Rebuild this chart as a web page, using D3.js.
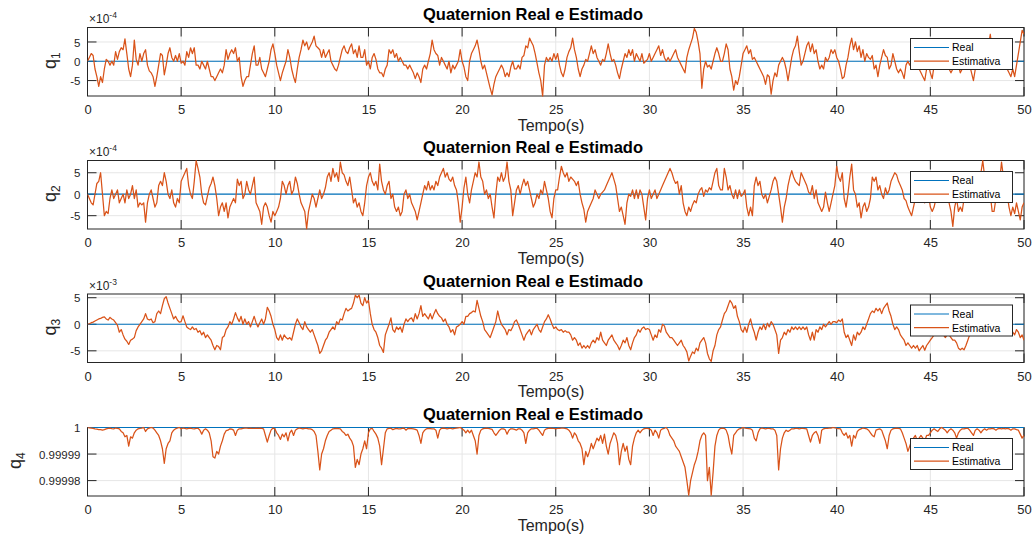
<!DOCTYPE html>
<html><head><meta charset="utf-8">
<script src="https://cdn.jsdelivr.net/npm/d3@7"></script>
<style>
body{margin:0;background:#fff}
svg{display:block}
text{font-family:"Liberation Sans",Arial,Helvetica,sans-serif}
</style>
</head><body>
<svg id="c" width="1032" height="540"></svg>
<script>
// ---------------- DATA ----------------
const timeStep = 0.1;                 // sampling step of the series (s)
const xDomain = [0, 50];
const xTicks = [0,5,10,15,20,25,30,35,40,45,50];
const xTickLabels = ["0","5","10","15","20","25","30","35","40","45","50"];
const seriesNames = ["Real", "Estimativa"];
const titleText = "Quaternion Real e Estimado";
const xLabelText = "Tempo(s)";
const realValues = [0, 0, 0, 1];      // constant "Real" quaternion per panel

// q1 estimate (units of 1e-4), one row per second
const q1Values = [
0,1,2,1.5,-2,-4,-6.5,-4,-5.5,-2,
0.5,0,-1,0,-1,2.5,0.5,2.5,3.5,3,
5.8,2,-2,-4,-1,5.5,0.5,-1,2,0,
2,3,-1,-2.5,-3,-4,-6.5,-4,-1,2,
1.5,-3.5,-1,2,3.5,1,0,1.5,0,2,
-0.5,0,-1,2.5,1,3.5,2,3.5,-1,-1,
-2,0,-1,-2,0,-2,-4,-4,-5,-4,
-3,-2,-3,-1,3,0.5,2,3,2,3.5,
0,1,-4,-6.5,-5,-4,-4,-1,2,4,
-1,-1,1,-2,-3,-4,-2,0,3,4.5,
2,-1,-3,-5,-3,-1.5,0,3,1,-2,
-4,-5.5,-2,1,3,5.5,4,5,3,4,
5,6.5,4,3.5,3,1,3,1,2,3,
0,-1,-2,-2.5,-1,1,3,4,2.5,2,
3.5,4.5,2,3,1,4,1,1,3,-1,
0,-2,1,2,0.5,-2,-3,-3,-4,-2,
-1,3,2,3,1,2,0,1,0,-1,
-1,-2,-1,-2,-3,-4.5,-3,-4,-5.5,-2,
-1,-2,0,2,5.5,3,2,1.5,-1,1,
0,-1,-2,0,-3,-1,-2,-1,0,3,
0,-1.5,-4,-5,0,2,3,4,5.5,3,
0,-2,-1,-3,-5,-7,-8.7,-6,-4,-3,
-2,-1,-2,-4,-3,-4,-1.5,0,-2,-2,
-1,-2,1,1.5,4,3.5,6,5,4,2,
-0.5,-3,-5,-9,-1,1,0,1,0,2,
0.5,2,-1,-3,-4,-2,1,2.5,3.5,6,
3,1,-2,-4,-2,-1,0.5,0,2,4,
2,3,1,0,-1,0.5,0,2,4.5,2,
0,0.5,-1,-3,-4.5,-2,0,2,1,3,
1.5,3,0,2,1,0,2,-0.5,0,0.5,
2,0,1,2,3,4,1.5,3,1,0,
1,0,1,2,3,1,0,-1,-2,-3,
1,3,4.5,6,8.5,7.5,5,2,-7,-2,
0,-1.5,-1,-2,0,2,3.5,2,0,0,
2,4.5,3,-2,-4,-7.5,-5,-6,-4,-1,
2,3,4,2,3,0.5,1,0,-1,-2,
-3,-4,-6,-3.5,-4,-8.5,-5,-3,-4,-1,
0,1,0,-2,-5,-2,1,3,4,6.5,
2.5,-1,0,2,4,5,2.5,4.5,2,3,
0,-2,-1,-2,1,0,1,3,2,3,
1,0,-2,-4.5,-4,-1,1,4,6,3,
5,2.5,4,1,3,0,2,1,0.5,1.5,
-2,-1,-4,-1,1,3,1.5,1,-2,-1,
2,0,-2,-3,-2,-3,-4.5,-1,0,-1,
0,1,-1,0,-2,-3,-4,-5,-2,-1,
-3,-4.5,-1,0,1,2,0,-1,1,0,
-2,-3,-2,0,1,-1,-3,-2,0,1,
0,-1,-3,-5,-2,0,2,1,3,2,
3,4,7,3,1,2,0,1,-1,0,
-1,-2,-3,-4,-2,-4,-1,2,5,8,
7];

// q2 estimate (units of 1e-4)
const q2Values = [
0,-1,-2,-2.5,0,2.5,3,5,0,-5,
-4,-4.5,-1,1,-1,0,1,-2,-1,0,
-2,1,-1,0,2,-1,1,-3,-2,-2.5,
-2,-6.5,-2,0,1,-1,-3,-2,2,3,
2,5,3,0,-1,1,-2,-3,-1,-2,
3,4,5,6,2,0,-1,3,7.8,6,
4,0,-2,-2.5,-0.5,1.5,2.5,4,2,-1,
-5,-3,-2,-4,-2,-5.5,-3,-2,-1,-2,
3.5,2,3,-1,0,3,1,0,2,4,
-2,-3,-4,-7,-3,-2,-3,-5,-6.5,-4,
-5,-4,-3,-1,3,2,0,2,3,0,
1,4,2.5,0,-2,-3,-4,-8,-4,-2,
0,-1,-3,-1,1,-1,0,1.5,4,5,
3,6,4,5,3,7.5,5,4.5,3,2,
4,1,-2,-1,-3,-2,-4,-5,-2,2,
4,5,3,2,3,1,7,3,1,0,
2,3,-1,0,-3,-4,-3,-5,-4,0,
1,-1,0,-2,-3,-4,-6,-4,-2,0,
2,1,3,1,2,1,3,2,4,5,
6,4,5,3.5,3,4,2,1,-2,-6.5,
-3,1.5,4,0,-2,1,3,5,4,7.5,
4,3,0,1,-1,0,-3,-5.5,0,4,
3,5,3,4,7.5,3,1,-5,-2,1,
2,0,2,3.5,2,3,1,-1,-3,-2,
0,-1,1,0,3,1,-1,-4,-5.5,-1,
1,1,4,6.5,5,4,5,3,4,3.5,
3,2,3,0,-2,-3.5,-6.5,-4,-3,-2,
-1,1,0,-1,0,0.5,1,2,3,4,
5,3.5,2,-1,-4,-3,-5,-7,-2,0,
-0.5,1,-1,1,-1,1,0,-3,-6,-1,
1,-1,0,1,-1,0,1,2,3,4,
5,6,5,3.5,2.5,3,0,2,-2,-4,
-5,-3,-4,-2.5,-1.5,-2,0,1,1.5,-0.5,
1,0.5,1.5,1,3,5,6,2,1,1,
6,4,1,2,0,-1,1,-1,1,-0.5,
0,1,-3,-5,-3,-5,2,4,2,3,
0,-1,0,-2,-0.5,1,3,4,3,0,
-3,-6.5,-3,-1,2,4,5.5,4,3,2.5,
2,5,4,3,2,0.5,0,2,-1,1,
-2,-3,-4,-3,0.5,-2,-4,-2,0,2,
6.5,4,3,5,-1,-3,0,4,7,1,
0,-3,-2,-5.5,-3,-2,-4,-3,-1,4,
3,4,1,2,0,-1,1.5,0,1,3,
4,5,4.5,3,2,1,-1,-1.5,-3,-4,
-5,-3,-1,0,1,-1,0,-2,-1,0,
-3,-4,-3,-1,0,2,0,-1,1,0,
-2,-4,-7.5,-3,-1,-4,-3,-4,-1,0,
1,2,0,1,3,2,4,5,7.8,4,
2,1,0,-4,-4,-1,1,3,7.5,4,
2,0,-3,-5,-3,-4.5,-2,-4,-6,-3,
-2];

// q3 estimate (units of 1e-3)
const q3Values = [
0,0.1,0.3,0.4,0.6,0.8,1.0,1.1,1.3,1.4,
1.0,0.8,1.3,1.0,0.8,0.3,-0.2,-1.5,-1,-2,
-2.8,-3.2,-3.8,-3,-2.8,-2.5,-1.2,-0.5,0,0.5,
1,2,1,0.8,1,0.3,0.5,2,2.5,2,
3.5,4.8,5.2,4,3,2,1,1.5,0.8,0.4,
0.5,1.6,0.5,-0.5,-0.8,-1,-0.5,-1,-0.8,-1.5,
-1.2,-2,-1.5,-2.5,-2,-2.5,-3,-4,-4.8,-4,
-4.2,-4.8,-2.5,-2.2,-1,-0.5,0.5,0,1,2.2,
1.2,0.5,1.5,0,1,0,0.5,-0.5,0.5,1.5,
0.3,-0.5,0.3,1,0,1,3.2,2.5,1.5,0,
-1,-2.5,-3,-2,-3,-2,-2.5,-2.8,-2.5,-3,
-1.5,0,1,0.3,-0.5,-1,0.5,-0.5,-1,-1.5,
-1,-2,-3,-4,-5.5,-5,-4,-3,-2.5,-1.5,
-1,-0.5,-1,0.5,0,1,0.8,2,3,2.5,
2.8,3,4,5.5,5,5.5,4,3.5,5,4,
4.5,2,0,-1,-1.5,-2.5,-4,-4.5,-5.3,-2,
-1,0,1.2,-1,-1.5,-0.5,-1,-0.5,-1.5,0,
1,0.5,1,1.2,0.5,2,1,2,3.5,1.5,
2,1.5,1,2,1,2,2.8,2,1.5,1.2,
0.5,1,0,-0.5,-1.5,-1,-2,-0.5,-0.3,0,
0.5,0,1.5,1.5,2,2.2,2.5,2.3,4.5,3,
1.5,0.5,-1,-1.5,-2,-2.5,-1.5,-0.5,0.5,2.5,
1,0,-0.5,-1,-2,-1,-1.2,-0.5,0.5,0.8,
0,-1,-2,-3,-2,-1.5,-1,-2,-1,-0.5,
0,-1,-1.5,-0.5,0.5,1,1.8,1,0,-0.8,
-0.5,-1,-1.2,-1,-1.5,-1.2,-1.5,-1.5,-2,-3,
-2.5,-3,-4,-3.5,-4.5,-4,-4.5,-4,-4.5,-3.5,
-3,-3.5,-2.5,-3,-1.5,-3,-3.5,-4,-3,-2.5,
-2,-3,-3.5,-4,-4.8,-4,-3,-3.5,-2.5,-4,
-4.8,-3.5,-2.5,-2,-1,-1.5,-0.8,-0.5,-1,-0.8,
-1,-2,-3,-2,-2.5,-1,-1.5,0,-0.3,-1.5,
-2,-2.5,-2.5,-3,-3.5,-4,-3.5,-3,-4,-4.5,
-5.2,-6.9,-6,-5.2,-5.5,-4.5,-5,-3.5,-3,-2.5,
-3.5,-5.5,-6.5,-7,-5,-4,-2,-1,-0.5,0.8,
2,2.5,3.5,4.5,4,3,3.5,1.5,0.5,-1,
-1.5,-0.5,-1.5,0,1,-0.5,-1.5,-3,-1.5,-0.5,
-1,0,-1,0.2,-0.5,0.5,0,-1,-2,-5.5,
-3,-2.5,-1.5,-2,-1,-1.5,-0.5,-1,-0.5,-1,
-0.5,-1,-0.5,-1,-0.5,-2,-3,-1.5,-3,-1,
-1.5,-0.5,-1,0,-0.5,0,0.5,0,0.5,0.5,
0.3,0.8,0.5,1,-1.5,-2.5,-2,-3,-4,-2,
-3,-1.5,-2,-1.5,-0.5,-1,0,1,2,2.5,
2.2,3,2.5,3,2,3,3.5,4,2.5,1.5,
0,-1,-0.5,-1,-2,-2.5,-3,-4,-3.5,-4,
-4.5,-4,-4.5,-4,-5,-4.5,-4,-4.9,-4,-3.5,
-3,-2.5,-2,-1.5,-1,-1,-1.5,-2,-2.5,-2,
-2,-2.5,-3,-3,-3.5,-4.5,-4.8,-4.5,-4.8,-4,
-3,-2,-1.5,-1,-0.5,-1,-0.5,0,-0.5,0,
0.5,0,-0.5,0,0.5,0,-0.5,-1,-0.5,0,
-0.5,-1,-1.5,-1,-1.5,-2,-1,-1.5,-2.5,-2,
-3];

// q4 estimate: distance below 1 (units of 1e-6)
const q4Deviation = [
0,0.1,0.2,0.3,0.5,0.6,0.8,0.8,1,0.8,
0.5,0.3,0.2,0.4,0.5,0.2,0.3,0.5,1.5,2,
3.5,3,7,3.5,4,2,1,0.5,0.3,0.2,
0,1.5,0.5,0.2,0,0.2,1,2,3,5,
8,13.5,8,6,5,2,1,0.5,0.2,0,
0.5,0.2,0.3,0.5,0.3,0.2,0.4,0.5,0.3,0.3,
1,2.5,1,0.5,1,2,5,11,11.5,9,
10,7,5,2.5,1.2,1,0.5,0.6,1,3,
1,0.5,0.5,0.3,0.2,0.2,0.3,0.2,0.3,0.3,
0.2,0.3,0.2,0.3,0.5,3,5.5,3,1,0.2,
0.5,2,3,4.5,2.5,3.5,2,5,2,1,
3,1,0.5,0.2,0.3,0.5,0.3,0.3,0.5,0.5,
0.8,1.5,3,9,16,10,8,5,3,1.5,
1,0.5,0.4,0.3,0.4,0.5,1.5,2,3,2.5,
4,5,7,15,12,14,10,8,5,8,
2,0.5,0.3,1.5,2.5,4,7,14,8,2,
0.5,0.3,0.3,0.8,0.5,0.3,0.5,0.5,0.3,0.2,
1,0.4,0.3,0.4,0.5,0.7,1,3,6,2,
1,0.5,0.3,0.4,0.5,0.5,1,4,1,0.3,
0.2,0.3,0.5,0.3,0.3,0.5,0.3,0.2,0.1,0,
0.5,1,2,1,2,1,3,5,10,3,
1,0.5,0.3,0.2,0.3,0.5,0.7,2,3,2,
1,0.5,0.5,0.8,2.5,1,0.5,0.5,0.7,1,
0.5,0.5,1,2,6,2,1,0.5,0.5,0.3,
0.3,1,2,3,1,0.5,0.3,0.2,0.3,0.3,
0.5,0.3,0.3,0.2,0.2,0.3,0.5,1,2,4,
2,3,5,6,8,14,9,11,9,6,
8,6,4,5,3,6,2.5,7,10,6,
4,2,3,6,14,9,6,9,7,12,
14,7,4,2,1,2,1,0.5,0.3,0.3,
0.5,1,3,1,2,4,1,0.5,0.3,0,
1,3,4,5,7,8,9,11,13,15,
20,25.5,20,17,14,12,9,5,3,2,
3,20,15,25.5,17,7,3,1,0.3,0.2,
0.3,1,3,7,10,3,2,1,0.5,0.3,
0,0.2,0.3,0.4,0.5,1,4,5,2,0.5,
0.2,0.3,0.5,0.3,0.3,0.5,0.5,1,3,16,
8,4,2,1,1.5,1,0.5,0.5,0.3,0.3,
0.5,0.3,0.3,0.4,0.5,3,5.5,3,2,1.5,
3,6,1,0.5,0.3,0.3,0.2,0.2,0,0.1,
0.3,0.4,0.5,2,3,2,4,3,7,3,
4,1.5,0.8,0.5,0.2,0.3,0.5,1,2,3,
3.5,1,0.7,0.5,1,3,5,8,3,1,
0.5,0.3,0.2,0.3,0.5,2,4,6,9,7,
5,4,3,5,4,3,4,5,3,3,
2,1,0.5,1,1.5,0.5,0,0.5,1,2,
1,0.5,1,2,4,2,1,0.5,0.5,0.3,
0.3,1,2,3,1,0.5,1,2,1,0.5,
1,0.5,0.5,0.3,0.5,1,0.5,0.3,0.5,0.3,
0.5,0.3,0.5,1,0.5,0.5,0.8,1,2.5,4,
3];
const q4Values = q4Deviation.map(d => 1 - d * 1e-6);

// axis limits / ticks per panel
const q1Domain = [-9.0, 8.75], q1Ticks = [-5, 0, 5], q1TickLabels = ["-5", "0", "5"];
const q2Domain = [-8.1, 7.85], q2Ticks = [-5, 0, 5], q2TickLabels = ["-5", "0", "5"];
const q3Domain = [-7.2, 5.7],  q3Ticks = [-5, 0, 5], q3TickLabels = ["-5", "0", "5"];
const q4Domain = [1 - 25.8e-6, 1], q4Ticks = [0.99998, 0.99999, 1], q4TickLabels = ["0.99998", "0.99999", "1"];
const subscripts = ["1", "2", "3", "4"];
const exponents = ["-4", "-4", "-3", null];

const panels = [
  {values:q1Values, domain:q1Domain, ticks:q1Ticks, labels:q1TickLabels},
  {values:q2Values, domain:q2Domain, ticks:q2Ticks, labels:q2TickLabels},
  {values:q3Values, domain:q3Domain, ticks:q3Ticks, labels:q3TickLabels},
  {values:q4Values, domain:q4Domain, ticks:q4Ticks, labels:q4TickLabels}
];

// ---------------- LAYOUT ----------------
const xLeft = 87.5, xRight = 1024;
const plotTops = [27.5, 160.5, 294, 427.5];
const plotH = 68.5;
const tickLen = 9;
const yLabelX = [56, 56, 56, 21];
const axisColor = "#262626", gridColor = "#e6e6e6";
const colReal = "#0072BD", colEst = "#D95319";

const svg = d3.select("#c");
const x = d3.scaleLinear().domain(xDomain).range([xLeft, xRight]);
const defs = svg.append("defs");

panels.forEach((p, i) => {
  const top = plotTops[i], bottom = top + plotH;
  const y = d3.scaleLinear().domain(p.domain).range([bottom, top]);
  const g = svg.append("g");

  // grid
  g.append("g").selectAll("line").data(xTicks).join("line")
    .attr("x1", d => x(d)).attr("x2", d => x(d)).attr("y1", top).attr("y2", bottom)
    .attr("stroke", gridColor).attr("stroke-width", 1);
  g.append("g").selectAll("line").data(p.ticks).join("line")
    .attr("y1", d => y(d)).attr("y2", d => y(d)).attr("x1", xLeft).attr("x2", xRight)
    .attr("stroke", gridColor).attr("stroke-width", 1);

  // box
  g.append("rect").attr("x", xLeft).attr("y", top).attr("width", xRight - xLeft).attr("height", plotH)
    .attr("fill", "none").attr("stroke", axisColor).attr("stroke-width", 1);

  // inward ticks on all sides
  const tk = g.append("g").attr("stroke", axisColor).attr("stroke-width", 1);
  tk.selectAll(".xb").data(xTicks).join("line").attr("class","xb")
    .attr("x1", d => x(d)).attr("x2", d => x(d)).attr("y1", bottom).attr("y2", bottom - tickLen);
  tk.selectAll(".xt").data(xTicks).join("line").attr("class","xt")
    .attr("x1", d => x(d)).attr("x2", d => x(d)).attr("y1", top).attr("y2", top + tickLen);
  tk.selectAll(".yl").data(p.ticks).join("line").attr("class","yl")
    .attr("y1", d => y(d)).attr("y2", d => y(d)).attr("x1", xLeft).attr("x2", xLeft + tickLen);
  tk.selectAll(".yr").data(p.ticks).join("line").attr("class","yr")
    .attr("y1", d => y(d)).attr("y2", d => y(d)).attr("x1", xRight).attr("x2", xRight - tickLen);

  // data
  const clipId = "clip" + i;
  defs.append("clipPath").attr("id", clipId).append("rect")
    .attr("x", xLeft).attr("y", top - 1).attr("width", xRight - xLeft).attr("height", plotH + 2);
  const dg = g.append("g").attr("clip-path", `url(#${clipId})`);
  dg.append("path").datum(xDomain)
    .attr("d", d3.line().x(t => x(t)).y(() => y(realValues[i])))
    .attr("fill", "none").attr("stroke", colReal).attr("stroke-width", 1.2);
  dg.append("path").datum(p.values)
    .attr("d", d3.line().x((v, k) => x(k * timeStep)).y(v => y(v)))
    .attr("fill", "none").attr("stroke", colEst).attr("stroke-width", 1.25).attr("stroke-linejoin", "round");

  // x tick labels
  const ax = g.append("g").attr("transform", `translate(0,${bottom})`)
    .call(d3.axisBottom(x).tickValues(xTicks).tickFormat((d, k) => xTickLabels[k]).tickSize(0));
  ax.select(".domain").remove();
  ax.selectAll("text").attr("dy", null).attr("y", 18).attr("fill", axisColor)
    .attr("font-size", 13).attr("font-family", '"Liberation Sans",Arial,sans-serif');

  // y tick labels
  const ay = g.append("g").attr("transform", `translate(${xLeft},0)`)
    .call(d3.axisLeft(y).tickValues(p.ticks).tickFormat((d, k) => p.labels[k]).tickSize(0).tickPadding(7));
  ay.select(".domain").remove();
  ay.selectAll("text").attr("dy", "0.35em").attr("fill", axisColor)
    .attr("font-size", 11.5).attr("font-family", '"Liberation Sans",Arial,sans-serif');

  // exponent
  if (exponents[i]) {
    const ex = g.append("text").attr("x", xLeft + 1.5).attr("y", top - 4.5)
      .attr("font-size", 12).attr("fill", axisColor);
    ex.append("tspan").text("\u00d710");
    ex.append("tspan").attr("font-size", 8.5).attr("dy", -5).text(exponents[i]);
  }

  // title
  g.append("text").attr("x", 533).attr("y", top - 7.5).attr("text-anchor", "middle")
    .attr("font-size", 16.5).attr("font-weight", "bold").attr("fill", "#000").text(titleText);

  // x label
  g.append("text").attr("x", 551).attr("y", bottom + 34.5).attr("text-anchor", "middle")
    .attr("font-size", 16).attr("fill", axisColor).text(xLabelText);

  // y label q_i
  const yl = g.append("text").attr("transform", `translate(${yLabelX[i]},${top + plotH / 2 - 1}) rotate(-90)`)
    .attr("text-anchor", "middle").attr("fill", axisColor);
  yl.append("tspan").attr("font-size", 18).text("q");
  yl.append("tspan").attr("font-size", 12).attr("dy", 4).text(subscripts[i]);

  // legend
  const lg = g.append("g").attr("transform", `translate(910.5,${top + 11})`);
  lg.append("rect").attr("width", 102).attr("height", 31).attr("fill", "#fff")
    .attr("stroke", axisColor).attr("stroke-width", 1);
  [colReal, colEst].forEach((c, j) => {
    const ly = 9 + j * 13.7;
    lg.append("line").attr("x1", 3.5).attr("x2", 38.5).attr("y1", ly).attr("y2", ly)
      .attr("stroke", c).attr("stroke-width", 1.2);
    lg.append("text").attr("x", 41.5).attr("y", ly + 3.8).attr("font-size", 10.5)
      .attr("fill", "#000").text(seriesNames[j]);
  });
});
</script>
</body></html>
